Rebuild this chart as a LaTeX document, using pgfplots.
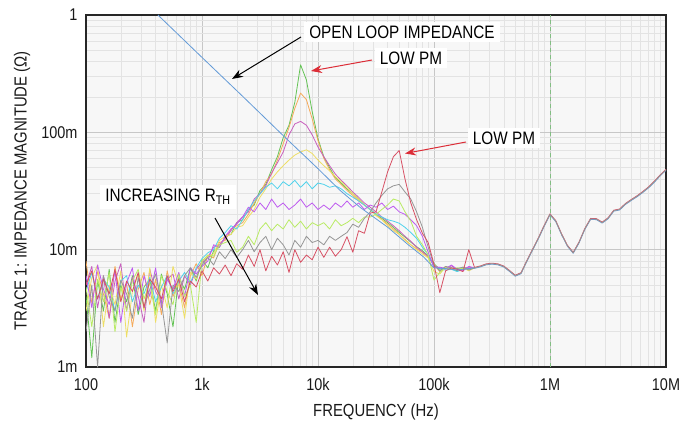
\documentclass[border=0pt]{standalone}
\usepackage{pgfplots}
\usepackage{pgfplotstable}
\pgfplotsset{compat=1.18}
\usetikzlibrary{arrows.meta}
\usepackage{fontspec}
\setmainfont{Liberation Sans}[FakeStretch=0.85]

\definecolor{cG}{RGB}{100,195,85}
\definecolor{cO}{RGB}{245,170,90}
\definecolor{cM}{RGB}{200,95,190}
\definecolor{cY}{RGB}{238,222,100}
\definecolor{cC}{RGB}{80,210,235}
\definecolor{cV}{RGB}{190,90,240}
\definecolor{cL}{RGB}{185,235,100}
\definecolor{cK}{RGB}{150,150,150}
\definecolor{cR}{RGB}{215,80,100}
\definecolor{cB}{RGB}{100,155,215}
\definecolor{cDash}{RGB}{130,190,130}
\definecolor{cArrR}{RGB}{220,45,55}

% impedance in milliohm, frequency in Hz
\pgfplotstableread{
f G O M Y C V L K R
100 4.0 8.0 5.0 3.0 4.4 6.0 4.8 2.0 5.0
112.2 1.2 3.5 7.2 5.8 6.4 3.2 2.2 5.0 6.6
125.9 5.5 6.5 3.2 7.4 3.8 7.4 5.6 1.0 3.8
141.3 3.0 4.2 6.0 2.2 5.6 4.6 3.6 6.0 5.6
158.5 6.8 2.6 2.6 5.0 4.8 3.4 6.4 4.0 4.2
177.8 2.4 7.2 5.4 3.4 3.0 6.6 2.0 3.0 6.8
199.5 5.0 3.8 7.6 6.6 5.4 2.4 4.8 5.5 3.6
223.9 3.6 5.2 3.0 1.8 6.0 5.2 3.0 4.2 5.4
251.2 6.0 2.2 5.8 4.4 3.6 7.0 5.4 2.6 4.4
281.8 2.8 4.6 4.0 6.2 5.0 3.0 6.8 5.8 6.4
316.2 4.8 6.4 2.4 3.0 4.2 6.0 3.8 3.2 3.2
354.8 5.6 3.4 6.8 7.0 5.8 4.0 5.2 4.6 5.6
398.1 3.0 5.6 4.4 2.4 3.6 7.0 2.8 6.2 4.8
446.7 6.2 2.8 3.6 5.0 4.8 3.2 6.0 3.6 3.8
501.2 4.2 6.6 5.6 3.2 6.0 5.6 4.4 1.6 6.0
562.3 2.2 4.0 6.2 7.2 4.2 4.6 3.4 5.0 4.4
631.0 5.8 5.2 3.8 5.0 5.4 6.4 6.2 4.4 5.6
707.9 4.6 3.2 6.0 2.6 6.4 4.0 4.0 6.0 3.6
794.3 7.0 6.0 5.0 6.4 5.2 7.0 5.0 7.0 5.4
891.3 5.4 7.6 6.8 5.6 7.0 6.2 2.4 5.8 4.8
1000 8.2 6.0 7.8 8.0 8.4 7.2 8.0 7.4 6.6
1122 7.0 9.0 8.6 8.8 9.4 8.0 9.0 8.6 5.4
1259 9.8 8.5 10.5 9.2 10.0 11.0 8.8 7.4 7.0
1413 10.5 11.5 11.0 12.0 12.5 10.5 11.0 9.6 6.2
1585 13.0 12.0 12.5 13.0 14.0 13.0 11.5 8.4 7.4
1778 13.5 15.0 14.5 13.5 16.0 15.0 12.0 10.0 6.0
1995 17.0 16.0 17.0 15.5 15.0 16.5 9.5 8.6 7.6
2239 18 17 19 16 18 19 10.5 10 6.8
2512 22 20 21 19 22 23 13 12 9
2818 24 25 27 22 26 21 11 9.6 7.2
3162 32 30 30 28 30 25 15 11.5 10
3548 36 38 35 33 34 22 17 13 6.6
3981 48 44 45 40 37 27 14.5 10 8.8
4467 62 58 55 46 33 23 16.5 12.5 7.4
5012 90 80 68 52 38 25 15 11 9.6
5623 115 110 95 58 35 22 18 9 6.4
6310 180 160 118 64 39 24 15.5 12 10
7079 376 216 124 68 34 27 17.5 10.5 7.8
7943 280 190 115 71 38 23 15 13 9
8913 150 130 95 66 33 25 17 11.5 8.2
10000 88 85 75 58 37 22 16 12 10.5
11220 62 60 62 52 36 24 17 11 8.6
12589 50 48 52 47 34 22 15 13 10.5
14125 41 40 44 42 35 25 18 12 8.8
15849 37 36 39 38 33 23 16 13 10
17783 33 32 35 34 30 26 17 14 12.9
19953 30 29 31 30 28 23 18.5 16.5 9.5
22387 27 26 28 27 26 25 17 15.5 14.5
25119 24 24 25 24 24 22 19 18.5 13.8
28184 22 22 23 22 22 24 19 21 20.5
31623 20 20 21 19.5 20 23 20 25 21
35481 18.5 18 19 18 19 25 22 29 31
39811 17 16.5 17.5 16 18 22 24 33 46
44668 15.5 15 16 14.5 17.5 23.5 27 35 62
50119 14 13.5 14.5 13.5 16.8 21 26 36 70
56234 12.8 12.2 13 12 15.5 20 21 31 40
63096 11.6 11 11.8 11 14 18 17.5 27 25
70795 10.6 10.2 10.5 10 12.5 16 13 21 18
79433 9.8 9.5 9.6 9.2 10.5 13 11 15.5 13.8
89125 8.8 8.6 8.8 8.5 9 9.5 9 10.5 11.5
100000 7.6 7.5 7.3 6.5 7.2 7.0 5.5 7.4 7.5
112202 6.8 6.5 7.0 6.2 6.9 7.1 6.4 6.6 4.3
125893 7.0 7.2 6.8 7.1 6.7 6.9 7.0 7.2 6.6
141254 6.9 6.8 7.3 6.9 6.8 7.4 6.8 7.0 7.0
158489 6.6 6.9 6.7 6.8 6.5 6.8 7.0 6.9 6.8
177828 7.1 6.7 6.9 7.0 6.8 6.6 6.9 7.1 6.5
199526 6.8 7.0 7.1 6.6 6.9 7.2 6.8 6.7 10.0
223872 7.0 7.0 7.0 7.0 7.0 7.0 7.0 7.0 7.0
}\traces

\pgfplotstableread{
f z
223872 7.0
251189 7.2
281838 7.5
316228 7.6
354813 7.5
398107 7.2
446684 6.6
501187 6.0
562341 6.3
630957 8.0
707946 10.0
794328 12.5
891251 16
1000000 20
1122018 17.5
1258925 13.5
1412538 10.8
1584893 9.4
1778279 11.5
1995262 15
2238721 18.3
2511886 18.2
2818383 17
3162278 18.5
3548134 21.5
3981072 22
4466836 24.5
5011872 26.5
5623413 28.5
6309573 31
7079458 34
7943282 38
8912509 43
10000000 48
}\tail

\pgfplotstableread{
f z
417 1000
1000 435
2250 202
5000 94
10000 49
15500 32
23000 23
40000 15.5
60000 11
81000 8.7
100000 7.0
125893 6.9
158489 6.7
199526 6.9
223872 7.0
}\openloop

\begin{document}
\begin{tikzpicture}
\useasboundingbox (0,0) rectangle (695pt,423pt);
\begin{axis}[
  at={(86pt,56pt)}, anchor=south west,
  scale only axis, width=580pt, height=352pt,
  xmode=log, ymode=log,
  xmin=100, xmax=1e7, ymin=1, ymax=1000,
  xtick={100,1000,10000,100000,1000000,10000000},
  xticklabels={100,1k,10k,100k,1M,10M},
  ytick={1,10,100,1000},
  yticklabels={1m,10m,100m,1},
  /pgf/number format/assume math mode=true,
  ticklabel style={font=\fontsize{17}{20}\selectfont, text=black!90},
  xticklabel shift=8pt,
  yticklabel shift=5pt,
  major tick length=0pt, minor tick length=0pt,
  grid=both,
  major grid style={draw=black!22, line width=0.9pt},
  minor grid style={draw=black!11, line width=0.7pt},
  axis line style={line width=1.6pt, black!85},
  axis background/.style={fill=black!3},
  xlabel={FREQUENCY (Hz)},
  ylabel={TRACE 1: IMPEDANCE MAGNITUDE (Ω)},
  every axis x label/.style={at={(axis description cs:0.5,0)}, yshift=-45pt, anchor=center,
     font=\fontsize{17.5}{20}\selectfont, text=black!90},
  every axis y label/.style={at={(axis description cs:0,0.5)}, xshift=-64pt, rotate=90, anchor=center,
     font=\fontsize{17.5}{20}\selectfont, text=black!90},
  every axis plot/.append style={line width=0.8pt, line join=round},
]
\addplot[cDash, dash pattern=on 4pt off 3pt, line width=1pt] coordinates {(1e6,1) (1e6,1000)};
\addplot[cG] table[x=f,y=G]{\traces};
\addplot[cO] table[x=f,y=O]{\traces};
\addplot[cM] table[x=f,y=M]{\traces};
\addplot[cY] table[x=f,y=Y]{\traces};
\addplot[cC] table[x=f,y=C]{\traces};
\addplot[cV] table[x=f,y=V]{\traces};
\addplot[cL] table[x=f,y=L]{\traces};
\addplot[cK] table[x=f,y=K]{\traces};
\addplot[cR] table[x=f,y=R]{\traces};
\addplot[cB] table[x=f,y=z]{\openloop};
\addplot[cB, yshift=-0.5pt] table[x=f,y=z]{\tail};
\addplot[cR, yshift=0.5pt] table[x=f,y=z]{\tail};
\addplot[cK] table[x=f,y=z]{\tail};
\end{axis}

% annotations (picture coordinates: y = 423 - image row)
\node[fill=white, inner xsep=5pt, inner ysep=4pt, font=\fontsize{18}{20}\selectfont]
  at (402pt,391pt) {OPEN LOOP IMPEDANCE};
\draw[black, line width=1pt, -{Stealth[length=11pt,width=8pt]}] (301pt,386pt) -- (232pt,344pt);

\node[fill=white, inner xsep=5pt, inner ysep=4pt, font=\fontsize{18}{20}\selectfont]
  at (411pt,365pt) {LOW PM};
\draw[cArrR, line width=1pt, -{Stealth[length=11pt,width=8pt]}] (372pt,363pt) -- (311pt,352pt);

\node[fill=white, inner xsep=5pt, inner ysep=4pt, font=\fontsize{18}{20}\selectfont]
  at (504pt,285pt) {LOW PM};
\draw[cArrR, line width=1pt, -{Stealth[length=11pt,width=8pt]}] (466pt,281pt) -- (405pt,269.5pt);

\node[fill=white, inner xsep=5pt, inner ysep=4pt, font=\fontsize{18}{20}\selectfont]
  at (168pt,226pt) {INCREASING R\textsubscript{TH}};
\draw[black, line width=1pt, -{Stealth[length=11pt,width=8pt]}] (215pt,205pt) -- (258pt,128pt);
\end{tikzpicture}
\end{document}
